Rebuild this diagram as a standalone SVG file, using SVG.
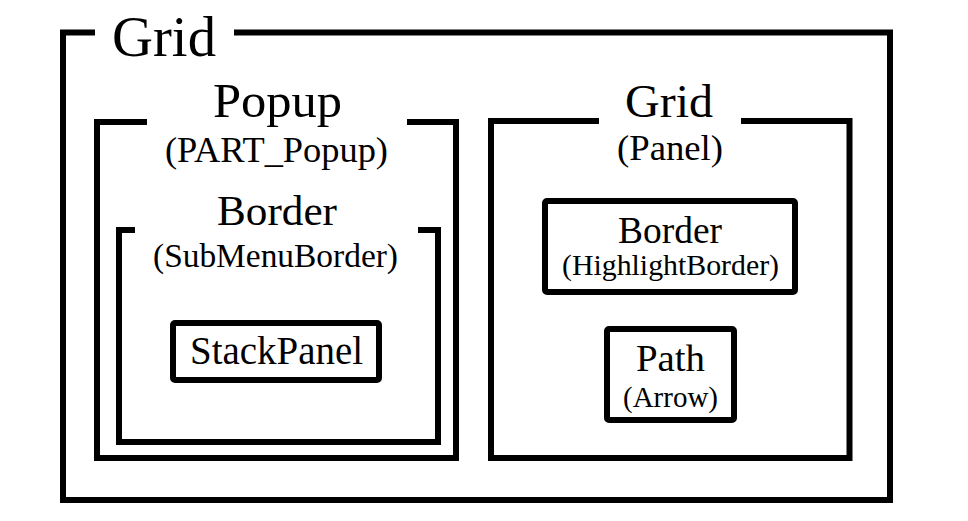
<svg xmlns="http://www.w3.org/2000/svg" width="968" height="521" viewBox="0 0 968 521">
<style>
.frame{fill:none;stroke:#000;stroke-width:6;stroke-linejoin:miter;stroke-linecap:butt}
.box{fill:#fff;stroke:#000;stroke-width:6}
text{font-family:"Liberation Serif","Times New Roman",serif;fill:#000;text-anchor:middle}
</style>
<rect width="968" height="521" fill="#fff"/>
<g id="grid-outer">
<path class="frame" d="M95,32.5 H63 V500 H890 V32.5 H234"/>
<text x="164" y="56" font-size="56" textLength="104" lengthAdjust="spacingAndGlyphs">Grid</text>
</g>
<g id="popup">
<path class="frame" d="M147,122 H97 V458 H456 V122 H407"/>
<text x="277.5" y="117" font-size="49" textLength="129" lengthAdjust="spacingAndGlyphs">Popup</text>
<text x="276.5" y="162" font-size="35" textLength="223" lengthAdjust="spacingAndGlyphs">(PART_Popup)</text>
</g>
<g id="submenuborder">
<path class="frame" d="M135,230 H119 V442 H438 V230 H418"/>
<text x="277" y="225" font-size="42" textLength="120" lengthAdjust="spacingAndGlyphs">Border</text>
<text x="275.5" y="267" font-size="33" textLength="245" lengthAdjust="spacingAndGlyphs">(SubMenuBorder)</text>
</g>
<g id="stackpanel">
<rect class="box" x="173" y="323" width="206" height="57" rx="2"/>
<text x="276.5" y="364" font-size="39" textLength="173" lengthAdjust="spacingAndGlyphs">StackPanel</text>
</g>
<g id="grid-panel">
<path class="frame" d="M599,121 H491 V458 H849.5 V121 H741"/>
<text x="669" y="117" font-size="47" textLength="88" lengthAdjust="spacingAndGlyphs">Grid</text>
<text x="670" y="160" font-size="36" textLength="106" lengthAdjust="spacingAndGlyphs">(Panel)</text>
</g>
<g id="highlightborder">
<rect class="box" x="545" y="201" width="250" height="91" rx="2"/>
<text x="670" y="243" font-size="38" textLength="104" lengthAdjust="spacingAndGlyphs">Border</text>
<text x="670.5" y="275" font-size="29" textLength="217" lengthAdjust="spacingAndGlyphs">(HighlightBorder)</text>
</g>
<g id="path-arrow">
<rect class="box" x="607" y="329" width="127" height="91" rx="2"/>
<text x="670.5" y="371" font-size="38" textLength="69" lengthAdjust="spacingAndGlyphs">Path</text>
<text x="670.5" y="407" font-size="29" textLength="95" lengthAdjust="spacingAndGlyphs">(Arrow)</text>
</g>
<g id="connectors"/>
</svg>
